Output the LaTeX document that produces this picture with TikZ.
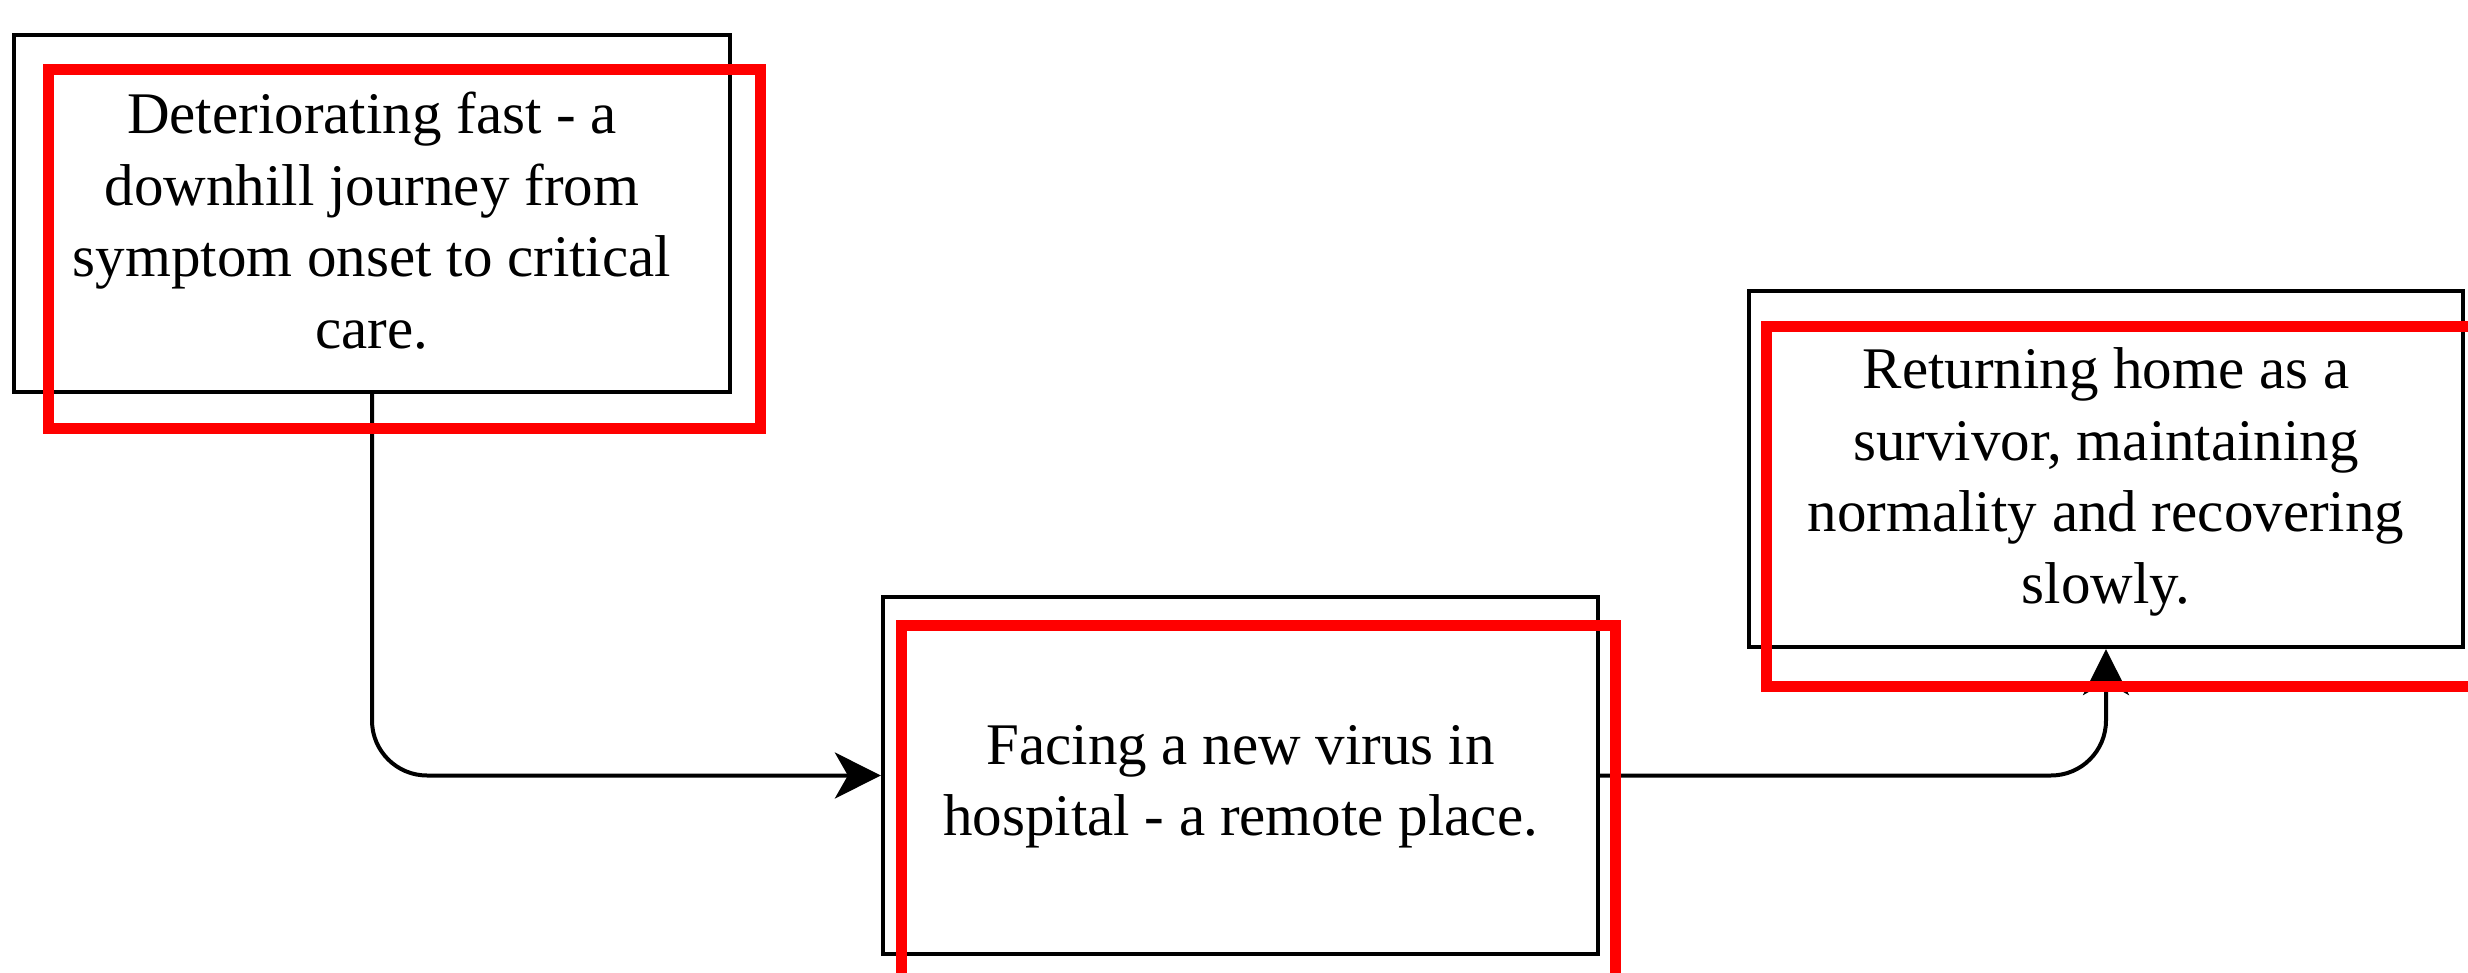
\documentclass[tikz,border=0pt]{standalone}
\usepackage{fontspec}
\setmainfont{Liberation Serif}
\usetikzlibrary{arrows.meta}
\begin{document}
\begin{tikzpicture}[x=0.2pt,y=-0.2pt,
  box/.style={draw=black, line width=0.85pt, fill=white, inner sep=0pt},
  txt/.style={align=center, inner sep=0pt, font=\fontsize{11.8pt}{14.3pt}\selectfont},
  mark box/.style={draw=red, line width=2.2pt, inner sep=0pt},
  conn/.style={draw=black, line width=0.8pt, rounded corners=11pt,
    -{Stealth[length=9.2pt, width=9.2pt, inset=2.6pt]}}]
\useasboundingbox (0,0) rectangle (2468,973);
\fill[white] (0,0) rectangle (2468,973);
% boxes
\node[box, minimum width=143.2pt, minimum height=71.4pt] (A) at (372,213.5) {};
\node[box, minimum width=143pt, minimum height=71.4pt] (B) at (1240.5,775.5) {};
\node[box, minimum width=142.8pt, minimum height=71.2pt] (C) at (2106,469) {};
\node[txt] (At) at ([yshift=-1.4pt]A.center)
  {Deteriorating fast - a\\downhill journey from\\symptom onset to critical\\care.};
\node[txt] (Bt) at ([yshift=-2.2pt]B.center)
  {Facing a new virus in\\hospital - a remote place.};
\node[txt] (Ct) at ([yshift=-2.6pt]C.center)
  {Returning home as a\\survivor, maintaining\\normality and recovering\\slowly.};
% connectors
\draw[conn] (A.south) -- (A.south |- B.west) -- (B.west);
\draw[conn] (B.east) -- (C.south |- B.east) -- (C.south);
% red marks
\node[mark box, minimum width=142.2pt, minimum height=71.6pt] (RA) at (404.5,249) {};
\node[mark box, minimum width=142.8pt, minimum height=71.4pt] (RB) at (1258,803.5) {};
\node[mark box, minimum width=142.8pt, minimum height=72pt] (RC) at (2123,506) {};
\end{tikzpicture}
\end{document}
